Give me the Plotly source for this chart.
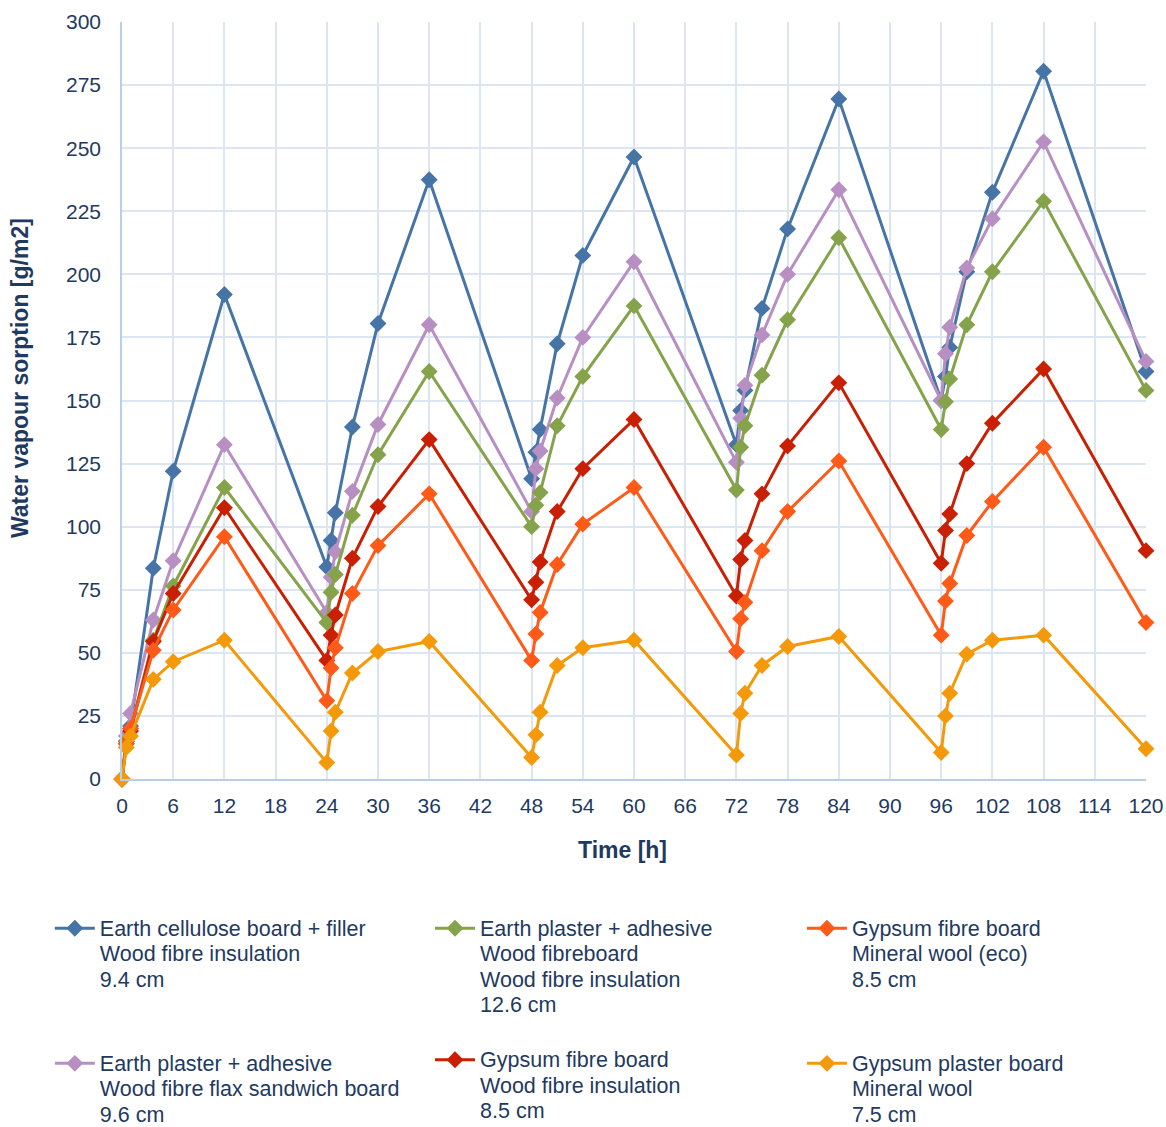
import plotly.graph_objects as go

# ---- data -----------------------------------------------------------
time_h = [0, 0.5, 1, 3.67, 6, 12,
          24, 24.5, 25, 27, 30, 36,
          48, 48.5, 49, 51, 54, 60,
          72, 72.5, 73, 75, 78, 84,
          96, 96.5, 97, 99, 102, 108,
          120]

earth_cellulose_board = [0, 15, 21, 83.5, 122, 192,
                         84, 94.5, 105.5, 139.5, 180.5, 237.5,
                         119, 129.5, 138.5, 172.5, 207.5, 246.5,
                         132.5, 146, 154, 186.5, 218, 269.5,
                         150, 159.5, 171, 201, 232.5, 280.5,
                         161.5]

earth_plaster_flax = [0, 17, 26, 63, 86.5, 132.5,
                      66, 80, 90, 114, 140.5, 180,
                      106, 123, 130, 151, 175, 205,
                      125.5, 143, 156, 176, 200, 233.5,
                      150, 168.5, 179, 202.5, 222, 252.5,
                      165.5]

earth_plaster_fibreboard = [0, 15, 20, 55, 76.5, 115.5,
                            62, 74, 81, 104.5, 128.5, 161.5,
                            100, 108.5, 113.5, 140, 159.5, 187.5,
                            114.5, 131.5, 140, 160, 182, 214.5,
                            138.5, 149.5, 158.5, 180, 201, 229,
                            154]

gypsum_fibre_wood = [0, 14, 19, 54.5, 73.5, 107.5,
                     47, 57, 65, 87.5, 108, 134.5,
                     71, 78, 86, 106, 123, 142.5,
                     72.5, 87, 94.5, 113, 132, 157,
                     85.5, 98.5, 105, 125, 141, 162.5,
                     90.5]

gypsum_fibre_mineral = [0, 14, 20, 51, 67, 96,
                        31, 44, 52, 73.5, 92.5, 113,
                        47, 57.5, 66, 85, 101, 115.5,
                        50.5, 63.5, 70, 90.5, 106, 126,
                        57, 70.5, 77.5, 96.5, 110, 131.5,
                        62]

gypsum_plaster_board = [0, 12.5, 17, 39.5, 46.5, 55,
                        6.5, 19, 26.5, 42, 50.5, 54.5,
                        8.5, 17.5, 26.5, 45, 52, 55,
                        9.5, 26, 34, 45, 52.5, 56.5,
                        10.5, 25, 34, 49.5, 55, 57,
                        12]

series_lines = [
    ["Earth cellulose board + filler", "Wood fibre insulation", "9.4 cm"],
    ["Earth plaster + adhesive", "Wood fibre flax sandwich board", "9.6 cm"],
    ["Earth plaster + adhesive", "Wood fibreboard", "Wood fibre insulation", "12.6 cm"],
    ["Gypsum fibre board", "Wood fibre insulation", "8.5 cm"],
    ["Gypsum fibre board", "Mineral wool (eco)", "8.5 cm"],
    ["Gypsum plaster board", "Mineral wool", "7.5 cm"],
]
series_values = [earth_cellulose_board, earth_plaster_flax, earth_plaster_fibreboard,
                 gypsum_fibre_wood, gypsum_fibre_mineral, gypsum_plaster_board]
series_colors = ["#4674A6", "#B78FC2", "#85A34A", "#C91F02", "#FF5A17", "#F49A0A"]
series_legends = ["legend", "legend", "legend2", "legend2", "legend3", "legend3"]

x_ticks = list(range(0, 121, 6))
y_ticks = list(range(0, 301, 25))

TEXT = "#1F3A60"
FONT = "Liberation Sans, Arial, sans-serif"

fig = go.Figure()
for i, (lines, vals, col, lg) in enumerate(zip(series_lines, series_values, series_colors, series_legends)):
    name = "<br>".join('<span style="font-size:21.5px">%s</span>' % s for s in lines)
    fig.add_trace(go.Scatter(
        x=time_h, y=vals, name=name, mode="lines+markers",
        line=dict(color=col, width=3),
        marker=dict(symbol="diamond", size=13, color=col),
        cliponaxis=False, legend=lg, legendgroup="g%d" % i,
    ))

legend_common = dict(
    orientation="v", yanchor="top", xanchor="left", valign="top",
    font=dict(family=FONT, size=19.5, color=TEXT), itemwidth=40,
    bgcolor="rgba(0,0,0,0)", traceorder="grouped",
)

fig.update_layout(
    width=1166, height=1127,
    margin=dict(l=122, r=20, t=22, b=348, autoexpand=False),
    plot_bgcolor="white", paper_bgcolor="white",
    font=dict(family=FONT, color=TEXT),
    legend=dict(x=-0.0705, y=-0.1719, tracegroupgap=56, **legend_common),
    legend2=dict(x=0.3008, y=-0.1719, tracegroupgap=27, **legend_common),
    legend3=dict(x=0.664, y=-0.1719, tracegroupgap=56, **legend_common),
    xaxis=dict(
        range=[0, 120], tickvals=x_ticks, ticktext=[str(v) for v in x_ticks],
        showgrid=True, gridcolor="#DCE6F2", gridwidth=1.5,
        showline=True, linecolor="#B9CEE8", linewidth=1.5, zeroline=False,
        ticks="outside", ticklen=7, tickcolor="rgba(0,0,0,0)",
        tickfont=dict(family=FONT, size=21, color=TEXT),
    ),
    yaxis=dict(
        range=[0, 300], tickvals=y_ticks, ticktext=[str(v) for v in y_ticks],
        showgrid=True, gridcolor="#DCE6F2", gridwidth=1.5,
        showline=True, linecolor="#B9CEE8", linewidth=1.5, zeroline=False,
        ticks="outside", ticklen=15, tickcolor="rgba(0,0,0,0)",
        tickfont=dict(family=FONT, size=21, color=TEXT),
    ),
    annotations=[
        dict(text="<b>Time [h]</b>", xref="paper", yref="paper", x=0.489, y=-0.0938,
             xanchor="center", yanchor="middle", showarrow=False,
             font=dict(family=FONT, size=23, color=TEXT)),
        dict(text="<b>Water vapour sorption [g/m2]</b>", xref="paper", yref="paper",
             x=-0.0996, y=0.5297, textangle=-90, xanchor="center", yanchor="middle",
             showarrow=False, font=dict(family=FONT, size=23, color=TEXT)),
    ],
    showlegend=True,
)

fig.write_html(
    "out.html",
    config={"displayModeBar": False},
    post_script="document.body.style.margin='0';document.body.style.overflow='hidden';",
)
